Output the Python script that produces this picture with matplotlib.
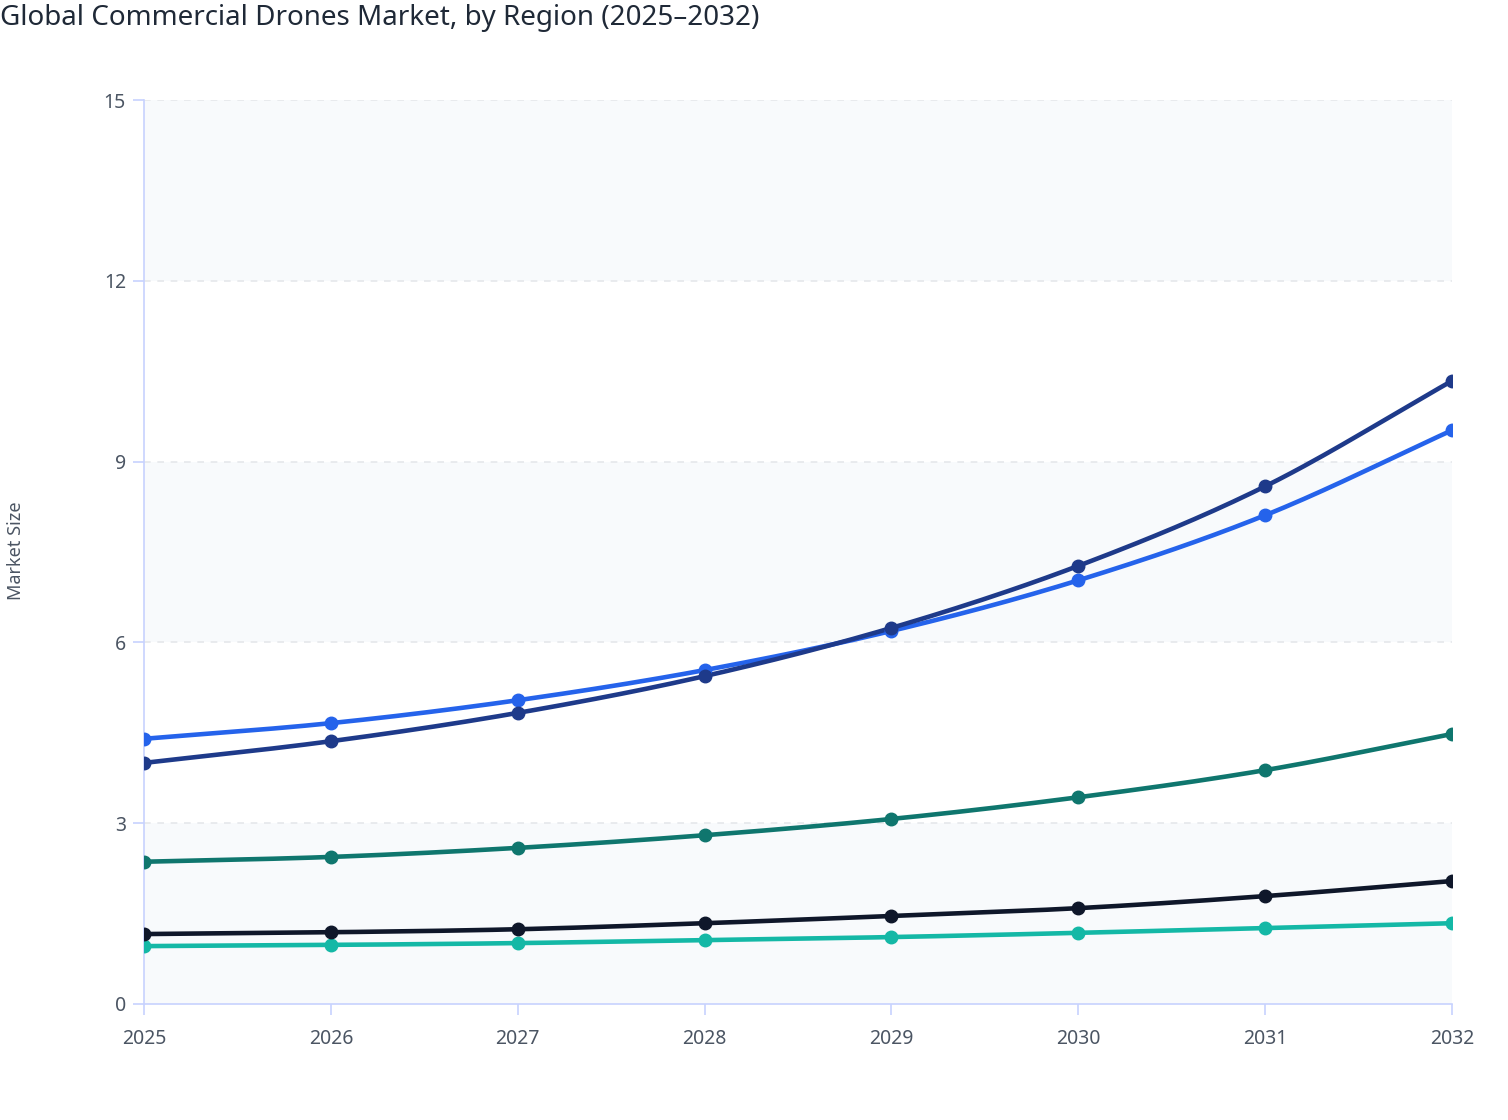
import numpy as np
import matplotlib.pyplot as plt

plt.rcParams['font.family'] = ['Noto Sans', 'DejaVu Sans']

# data
years     = [2025, 2026, 2027, 2028, 2029, 2030, 2031, 2032]
teal_lt   = [0.96, 0.98, 1.01, 1.06, 1.11, 1.18, 1.26, 1.34]
black     = [1.16, 1.19, 1.24, 1.34, 1.46, 1.59, 1.79, 2.04]
teal_dk   = [2.36, 2.44, 2.59, 2.80, 3.07, 3.43, 3.88, 4.48]
blue      = [4.40, 4.66, 5.04, 5.54, 6.19, 7.03, 8.11, 9.52]
navy      = [4.00, 4.36, 4.83, 5.44, 6.24, 7.27, 8.59, 10.34]
yticks    = [0, 3, 6, 9, 12, 15]

series = [
    (teal_lt, '#14b8a6'),
    (black,   '#0f172a'),
    (teal_dk, '#0f766e'),
    (blue,    '#2563eb'),
    (navy,    '#1e3a8a'),
]


def smooth(x, y, n=30):
    # catmull-rom curve through the points, only for drawing
    x = np.asarray(x, float)
    y = np.asarray(y, float)
    px = np.concatenate([[2*x[0]-x[1]], x, [2*x[-1]-x[-2]]])
    py = np.concatenate([[2*y[0]-y[1]], y, [2*y[-1]-y[-2]]])
    xs, ys = [], []
    t = np.linspace(0, 1, n)
    for i in range(1, len(px)-2):
        for p, out in ((px, xs), (py, ys)):
            p0, p1, p2, p3 = p[i-1], p[i], p[i+1], p[i+2]
            out.append(0.5*((2*p1) + (-p0+p2)*t + (2*p0-5*p1+4*p2-p3)*t**2
                            + (-p0+3*p1-3*p2+p3)*t**3))
    return np.concatenate(xs), np.concatenate(ys)


fig = plt.figure(figsize=(15.08, 11.2), dpi=100)
ax = fig.add_axes([0.0955, 0.1036, 0.8674, 0.8071])

# alternating bands
for i in range(0, len(yticks)-1, 2):
    ax.axhspan(yticks[i], yticks[i+1], color='#f8fafc', zorder=0, lw=0)

for y in yticks[1:]:
    ax.axhline(y, color='#e5e7eb', lw=1.2, ls=(0, (4, 4)), zorder=1)

for vals, col in series:
    sx, sy = smooth(years, vals)
    ax.plot(sx, sy, color=col, lw=3.3, zorder=3, solid_capstyle='round')
    ax.plot(years, vals, 'o', color=col, ms=9, zorder=4)

ax.set_xlim(years[0], years[-1])
ax.set_ylim(0, 15)
ax.set_xticks(years)
ax.set_yticks(yticks)
ax.tick_params(axis='both', colors='#c7d2fe', length=8, width=1.2,
               labelcolor='#4b5563', labelsize=14)
ax.tick_params(axis='x', pad=10)
ax.tick_params(axis='y', pad=5)
for s in ['top', 'right']:
    ax.spines[s].set_visible(False)
for s in ['left', 'bottom']:
    ax.spines[s].set_color('#c7d2fe')
    ax.spines[s].set_linewidth(1.2)

fig.text(16/1508, 1-551/1120, 'Market Size', fontsize=13, color='#4b5563',
         rotation=90, ha='center', va='center')
fig.text(0.0, 0.984, 'Global Commercial Drones Market, by Region (2025\u20132032)',
         fontsize=20, color='#1f2937', ha='left', va='center', weight='semibold')

fig.savefig('out.png', dpi=100)
